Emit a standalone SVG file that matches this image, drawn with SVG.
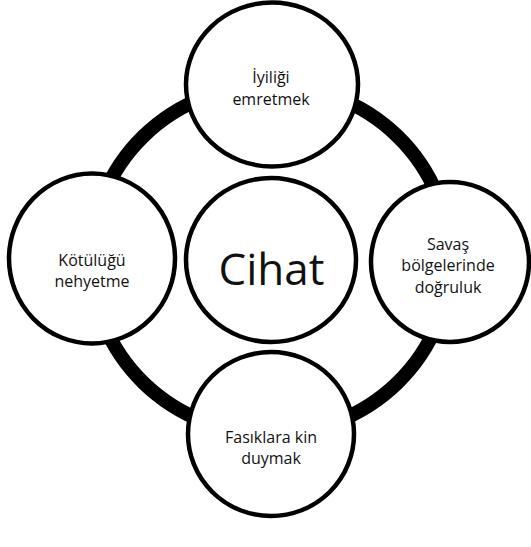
<svg xmlns="http://www.w3.org/2000/svg" width="531" height="547" viewBox="0 0 531 547">
  <style>
    .node { fill: #ffffff; stroke: #000000; stroke-width: 4.5; }
    .ring { fill: none; stroke: #000000; stroke-width: 14; }
    .label { font-family: "Open Sans", "Noto Sans", sans-serif; font-size: 16px; fill: #111111; text-anchor: middle; }
    .title { font-family: "Open Sans", "Noto Sans", sans-serif; font-size: 44px; fill: #111111; text-anchor: middle; }
  </style>

  <!-- cycle ring linking the outer nodes -->
  <g id="connectors">
    <ellipse class="ring" cx="270.5" cy="259.5" rx="179.5" ry="174.5"/>
  </g>

  <g id="node-center">
    <ellipse class="node" cx="271" cy="260" rx="85" ry="82"/>
    <text class="title" x="271.5" y="285">Cihat</text>
  </g>

  <g id="node-top">
    <ellipse class="node" cx="272" cy="84.5" rx="86" ry="82"/>
    <text class="label" x="271" y="83">İyiliği</text>
    <text class="label" x="271" y="105">emretmek</text>
  </g>

  <g id="node-right">
    <ellipse class="node" cx="450" cy="262" rx="79" ry="80"/>
    <text class="label" x="448" y="249.5">Savaş</text>
    <text class="label" x="448" y="271">bölgelerinde</text>
    <text class="label" x="448" y="292.5">doğruluk</text>
  </g>

  <g id="node-bottom">
    <ellipse class="node" cx="271" cy="434" rx="83" ry="82"/>
    <text class="label" x="271" y="443">Fasıklara kin</text>
    <text class="label" x="271" y="464">duymak</text>
  </g>

  <g id="node-left">
    <ellipse class="node" cx="92" cy="258.5" rx="83" ry="85"/>
    <text class="label" x="92" y="266">Kötülüğü</text>
    <text class="label" x="92" y="287">nehyetme</text>
  </g>
</svg>
